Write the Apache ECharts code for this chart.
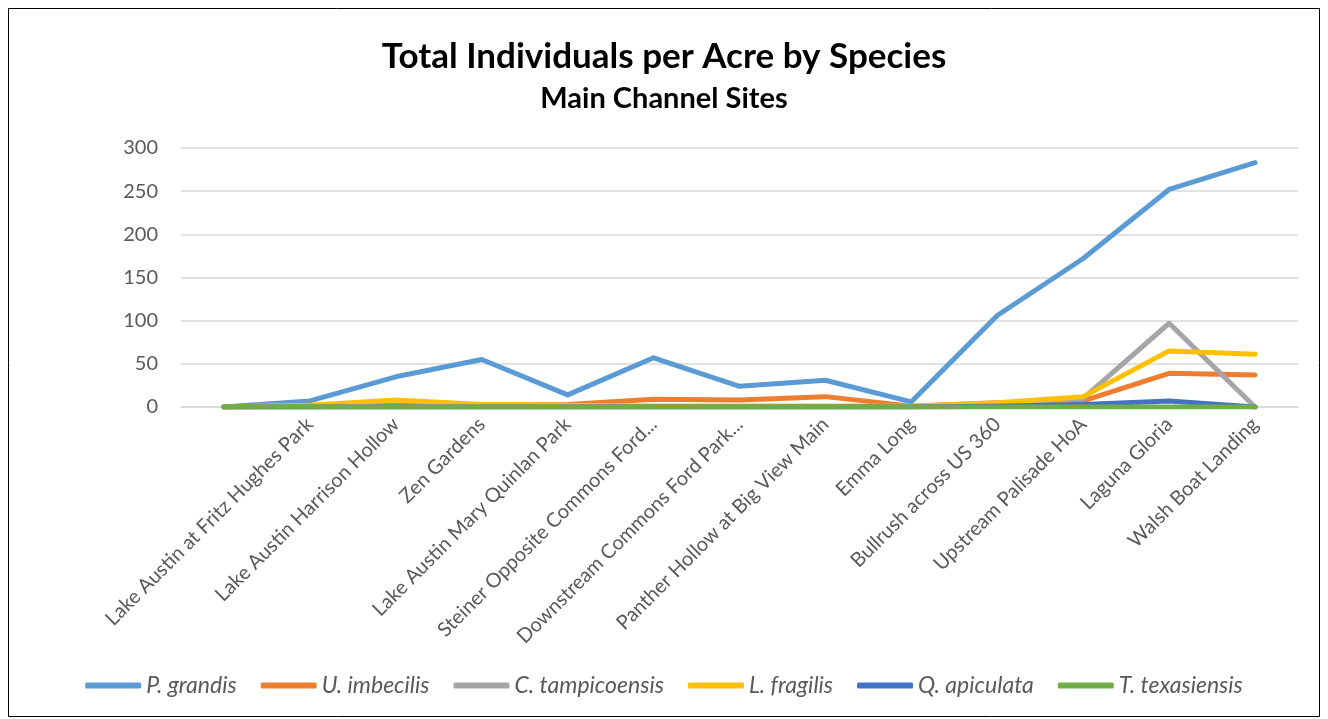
<!DOCTYPE html>
<html>
<head>
<meta charset="utf-8">
<script src="https://cdn.jsdelivr.net/npm/echarts@6/dist/echarts.min.js"></script>
<style>
  html, body { margin: 0; padding: 0; background: #fff; }
  #chart { width: 1328px; height: 719px; }
</style>
</head>
<body>
<div id="chart"></div>
<script>
// Sampling sites (the first slot of the axis carries no site name)
const sites = [
  '',
  'Lake Austin at Fritz Hughes Park',
  'Lake Austin Harrison Hollow',
  'Zen Gardens',
  'Lake Austin Mary Quinlan Park',
  'Steiner Opposite Commons Ford...',
  'Downstream Commons Ford Park...',
  'Panther Hollow at Big View Main',
  'Emma Long',
  'Bullrush across US 360',
  'Upstream Palisade HoA',
  'Laguna Gloria',
  'Walsh Boat Landing'
];

// Individuals per acre, one array per species
const pGrandis      = [0, 7, 35, 55, 14, 57, 24, 31, 6, 106, 172, 252, 283];
const uImbecilis    = [0, 2, 2, 2, 3, 9, 8, 12, 1, 5, 7, 39, 37];
const cTampicoensis = [0, 0, 1, 1, 1, 1, 1, 1, 1, 4, 10, 97, 0];
const lFragilis     = [0, 2, 8, 3, 2, 1, 1, 1, 1, 5, 12, 65, 61];
const qApiculata    = [0, 0, 0, 0, 0, 0, 0, 0, 0, 1, 3, 7, 0];
const tTexasiensis  = [0, 0, 0, 0, 0, 0, 0, 0, 0, 0, 0, 0, 0];

const speciesNames = ['P. grandis', 'U. imbecilis', 'C. tampicoensis', 'L. fragilis', 'Q. apiculata', 'T. texasiensis'];
const speciesData = [pGrandis, uImbecilis, cTampicoensis, lFragilis, qApiculata, tTexasiensis];
const palette = ['#5B9BD5', '#ED7D31', '#A5A5A5', '#FFC000', '#4472C4', '#70AD47'];

const yTicks = { min: 0, max: 300, interval: 50 };

const font = 'Lato, "Open Sans", sans-serif';

const chart = echarts.init(document.getElementById('chart'), null, { renderer: 'canvas' });

chart.setOption({
  backgroundColor: '#ffffff',
  color: palette,
  animation: false,
  title: [
    {
      text: 'Total Individuals per Acre by Species',
      left: 'center',
      top: 34,
      textStyle: { fontFamily: font, fontSize: 35, fontWeight: 'bold', color: '#000' }
    },
    {
      text: 'Main Channel Sites',
      left: 'center',
      top: 79,
      textStyle: { fontFamily: font, fontSize: 29, fontWeight: 'bold', color: '#000' }
    }
  ],
  graphic: [
    {
      type: 'rect',
      shape: { x: 8.5, y: 8.5, width: 1311, height: 708 },
      style: { fill: 'none', stroke: '#000', lineWidth: 1 },
      silent: true
    }
  ],
  legend: {
    bottom: 17,
    left: 'center',
    itemWidth: 56,
    itemHeight: 6,
    itemGap: 24,
    icon: 'roundRect',
    textStyle: { fontFamily: font, fontSize: 23, fontStyle: 'italic', color: '#595959' },
    data: speciesNames
  },
  grid: { left: 181, right: 30, top: 148, bottom: 312, containLabel: false },
  xAxis: {
    type: 'category',
    data: sites,
    boundaryGap: true,
    axisLine: { show: true, lineStyle: { color: '#D9D9D9', width: 1.5 } },
    axisTick: { show: false },
    axisLabel: {
      interval: 0,
      rotate: 45,
      margin: 14,
      fontFamily: font,
      fontSize: 20,
      color: '#595959'
    }
  },
  yAxis: {
    type: 'value',
    min: yTicks.min,
    max: yTicks.max,
    interval: yTicks.interval,
    axisLine: { show: false },
    axisTick: { show: false },
    axisLabel: { fontFamily: font, fontSize: 20, color: '#595959', margin: 23 },
    splitLine: { lineStyle: { color: '#D9D9D9', width: 1.5 } }
  },
  series: speciesNames.map((name, i) => ({
    name: name,
    type: 'line',
    data: speciesData[i],
    symbol: 'none',
    smooth: false,
    lineStyle: { width: 5, color: palette[i], cap: 'round', join: 'round' },
    itemStyle: { color: palette[i] }
  }))
});
</script>
</body>
</html>
